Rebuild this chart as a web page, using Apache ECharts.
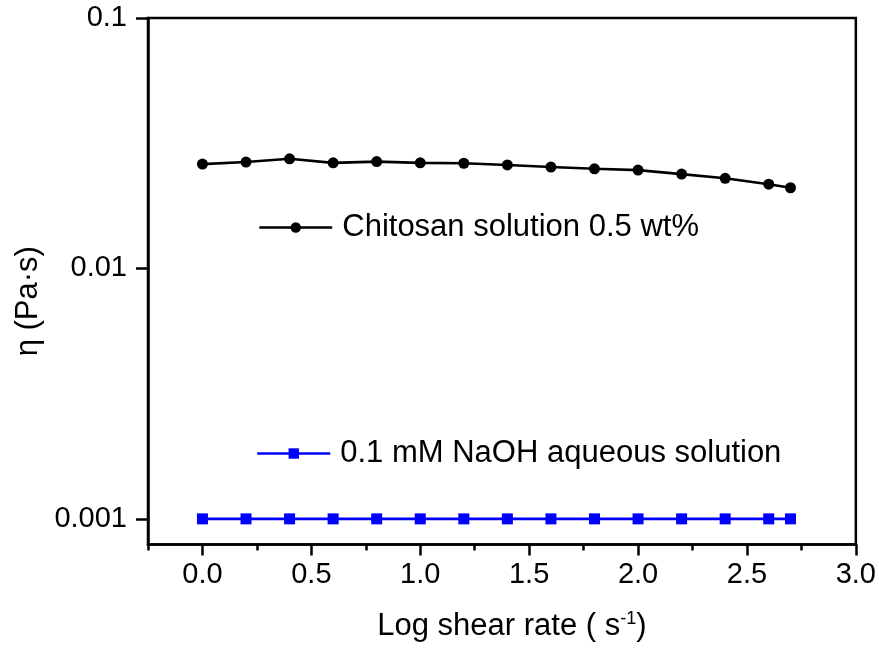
<!DOCTYPE html>
<html>
<head>
<meta charset="utf-8">
<script src="https://cdn.jsdelivr.net/npm/echarts@6/dist/echarts.min.js"></script>
<style>
html,body{margin:0;padding:0;background:#fff;}
#chart{width:879px;height:650px;}
</style>
</head>
<body>
<div id="chart"></div>
<script>
const shearLog = [0, 0.2, 0.4, 0.6, 0.8, 1.0, 1.2, 1.4, 1.6, 1.8, 2.0, 2.2, 2.4, 2.6, 2.7];
const chitosanEta = [0.0261, 0.0266, 0.0274, 0.0264, 0.0267, 0.0264, 0.0263, 0.0259, 0.0254, 0.0250, 0.0247, 0.0238, 0.0229, 0.0217, 0.0210];
const naohEta = [0.001, 0.001, 0.001, 0.001, 0.001, 0.001, 0.001, 0.001, 0.001, 0.001, 0.001, 0.001, 0.001, 0.001, 0.001];
const seriesNames = ['Chitosan solution 0.5 wt%', '0.1 mM NaOH aqueous solution'];
const xMajorTicks = [0, 0.5, 1.0, 1.5, 2.0, 2.5, 3.0];
const xMinorTicks = [-0.25, 0.25, 0.75, 1.25, 1.75, 2.25, 2.75];
const xTickLabels = ['0.0', '0.5', '1.0', '1.5', '2.0', '2.5', '3.0'];
const yTicks = [0.001, 0.01, 0.1];
const yTickLabels = ['0.001', '0.01', '0.1'];

const FONT = 'Liberation Sans, Arial, sans-serif';
function pick(ticks, labels, v) {
  for (let i = 0; i < ticks.length; i++) {
    const d = Math.abs(ticks[i] - v);
    if (d < 1e-9 || d / Math.abs(ticks[i] || 1) < 1e-6) return labels[i];
  }
  return '';
}

const chart = echarts.init(document.getElementById('chart'), null, {renderer: 'canvas'});
const axisLineStyle = {color: '#000', width: 2.5};
const legendCommon = {orient: 'vertical', padding: 0, itemWidth: 73, itemHeight: 13, selectedMode: false,
  lineStyle: {width: 2.5},
  textStyle: {fontSize: 31, color: '#000', fontFamily: FONT, padding: [0, 0, 0, 5]}};
const option = {
  animation: false,
  backgroundColor: '#fff',
  grid: {left: 148, right: 23, top: 18, bottom: 105.5, show: true, borderColor: '#000', borderWidth: 2.5, backgroundColor: 'transparent'},
  legend: [
    Object.assign({data: [seriesNames[0]], left: 258, top: 212}, legendCommon),
    Object.assign({data: [seriesNames[1]], left: 256, top: 438}, legendCommon)
  ],
  xAxis: [
    {type: 'value', min: -0.25, max: 3.0, position: 'bottom',
     name: 'Log shear rate ( s{sup|-1})', nameLocation: 'middle', nameGap: 66,
     nameTextStyle: {fontSize: 31, color: '#000', fontFamily: FONT, padding: [0, 0, 0, 20],
       rich: {sup: {fontSize: 18, color: '#000', fontFamily: FONT, verticalAlign: 'top', padding: [0, 0, 12, 0]}}},
     axisLine: {show: true, onZero: false, lineStyle: axisLineStyle},
     axisTick: {show: true, inside: false, length: 11, customValues: xMajorTicks, lineStyle: axisLineStyle},
     axisLabel: {show: true, margin: 16, customValues: xMajorTicks, fontSize: 29, color: '#000', fontFamily: FONT,
       formatter: v => pick(xMajorTicks, xTickLabels, v)},
     splitLine: {show: false}},
    {type: 'value', min: -0.25, max: 3.0, position: 'bottom',
     axisLine: {show: false, onZero: false},
     axisTick: {show: true, inside: false, length: 6, customValues: xMinorTicks, lineStyle: axisLineStyle},
     axisLabel: {show: false},
     splitLine: {show: false}}
  ],
  yAxis: {
    type: 'log', logBase: 10, min: 0.00079, max: 0.1,
    name: 'η (Pa·s)', nameLocation: 'middle', nameGap: 98, nameRotate: 90,
    nameTextStyle: {fontSize: 31, color: '#000', fontFamily: FONT, padding: [0, 40, 0, 0]},
    axisLine: {show: true, onZero: false, lineStyle: axisLineStyle},
    axisTick: {show: true, inside: false, length: 12, customValues: yTicks, lineStyle: axisLineStyle},
    axisLabel: {show: true, margin: 21, customValues: yTicks, fontSize: 29, color: '#000', fontFamily: FONT,
      formatter: v => pick(yTicks, yTickLabels, v)},
    splitLine: {show: false}
  },
  series: [
    {name: seriesNames[0], type: 'line', xAxisIndex: 0, yAxisIndex: 0,
     data: shearLog.map((x, i) => [x, chitosanEta[i]]),
     symbol: 'circle', symbolSize: 11, showAllSymbol: true,
     lineStyle: {color: '#000', width: 2.6}, itemStyle: {color: '#000'}},
    {name: seriesNames[1], type: 'line', xAxisIndex: 0, yAxisIndex: 0,
     data: shearLog.map((x, i) => [x, naohEta[i]]),
     symbol: 'rect', symbolSize: 11, showAllSymbol: true,
     lineStyle: {color: '#0000ff', width: 2.6}, itemStyle: {color: '#0000ff'}}
  ]
};
chart.setOption(option);
</script>
</body>
</html>
